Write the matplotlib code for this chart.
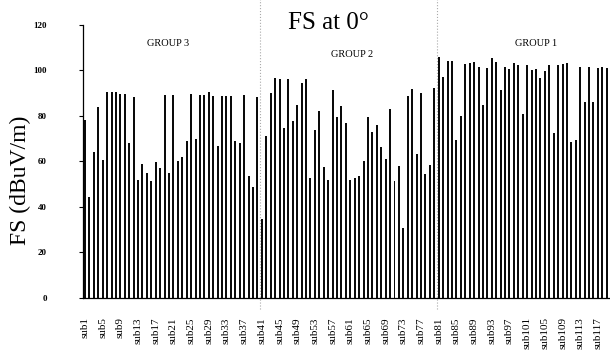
import matplotlib
matplotlib.use("Agg")
import matplotlib.pyplot as plt
import matplotlib.transforms as mtransforms
import numpy as np

plt.rcParams['font.family'] = ['Liberation Serif', 'DejaVu Serif']

# ---- data ----
subjects = [f"sub{i}" for i in range(1, 120)]
group3_values = [78.1, 44.2, 64.1, 83.8, 60.6, 90.4, 90.4, 90.4, 89.8, 89.8,
                 68.2, 88.3, 51.8, 59.0, 55.0, 51.4, 59.6, 56.9, 89.3, 55.0,
                 89.3, 60.0, 61.8, 68.8, 89.8, 69.8, 89.3, 89.3, 90.4, 88.9,
                 66.8, 88.9, 88.9, 88.9, 68.8, 68.2, 89.3, 53.4, 48.7, 88.3]
group2_values = [34.5, 71.2, 89.9, 96.5, 96.1, 74.5, 96.1, 77.6, 84.8, 94.5,
                 96.1, 52.8, 73.9, 82.2, 57.5, 51.8, 91.4, 79.7, 84.2, 77.0,
                 51.8, 52.8, 53.4, 60.0, 79.7, 72.9, 76.0, 66.3, 61.0, 83.2,
                 51.4, 58.1, 30.8, 88.9, 92.0, 63.2, 89.9, 54.4, 58.5, 92.4]
group1_values = [105.8, 97.1, 104.3, 104.3, 69.4, 80.1, 102.7, 103.3, 103.7, 101.7,
                 84.8, 101.2, 105.3, 103.7, 91.4, 101.7, 100.6, 103.3, 102.3, 80.7,
                 102.3, 100.2, 100.6, 96.5, 99.6, 102.3, 72.5, 102.3, 102.7, 103.3,
                 68.4, 69.4, 101.7, 86.3, 101.7, 86.3, 101.2, 101.7, 101.2]
values = group3_values + group2_values + group1_values
group_names = ["GROUP 3", "GROUP 2", "GROUP 1"]
y_ticks = [0, 20, 40, 60, 80, 100, 120]
title = "FS at 0°"
y_label = "FS (dBuV/m)"

# ---- figure ----
fig = plt.figure(figsize=(6.10, 3.56), dpi=100)
ax = fig.add_axes([0.1357, 0.1638, 0.8633, 0.766])

x = np.arange(len(values))
ax.bar(x, values, width=0.45, color='#0a0a0a', linewidth=0)

ax.set_xlim(-0.5, len(values) - 0.5 + 0.1)
ax.set_ylim(0, 120)
ax.set_yticks(y_ticks)
ax.set_yticklabels([str(v) for v in y_ticks], fontsize=6.5, fontweight='bold')
ax.tick_params(axis='y', direction='out', length=3, width=0.8, pad=23)

tick_idx = list(range(0, len(values), 4))
ax.set_xticks(tick_idx)
ax.set_xticklabels([subjects[i] for i in tick_idx], rotation=90, fontsize=8,
                   va='top', ha='center')
ax.tick_params(axis='x', length=0, pad=14)

for s in ['top', 'right']:
    ax.spines[s].set_visible(False)
ax.spines['left'].set_linewidth(0.9)
ax.spines['bottom'].set_linewidth(0.9)

# group dividers
trans = mtransforms.blended_transform_factory(ax.transData, ax.transAxes)
n3 = len(group3_values)
n2 = len(group2_values)
for xb in [n3 - 0.5, n3 + n2 - 0.5]:
    ax.plot([xb, xb], [-0.04, 1.1], transform=trans, color='#aaaaaa',
            linestyle=':', linewidth=0.8, clip_on=False, zorder=0)

# group labels
ax.text(18.9, 112, group_names[0], fontsize=7.5, ha='center', va='center')
ax.text(60.4, 106.8, group_names[1], fontsize=7.5, ha='center', va='center')
ax.text(102, 112, group_names[2], fontsize=7.5, ha='center', va='center')

fig.text(0.538, 0.935, title, fontsize=18, ha='center', va='center')
fig.text(0.033, 0.494, y_label, fontsize=17, rotation=90, ha='center', va='center')

fig.savefig("out.png", dpi=100)
